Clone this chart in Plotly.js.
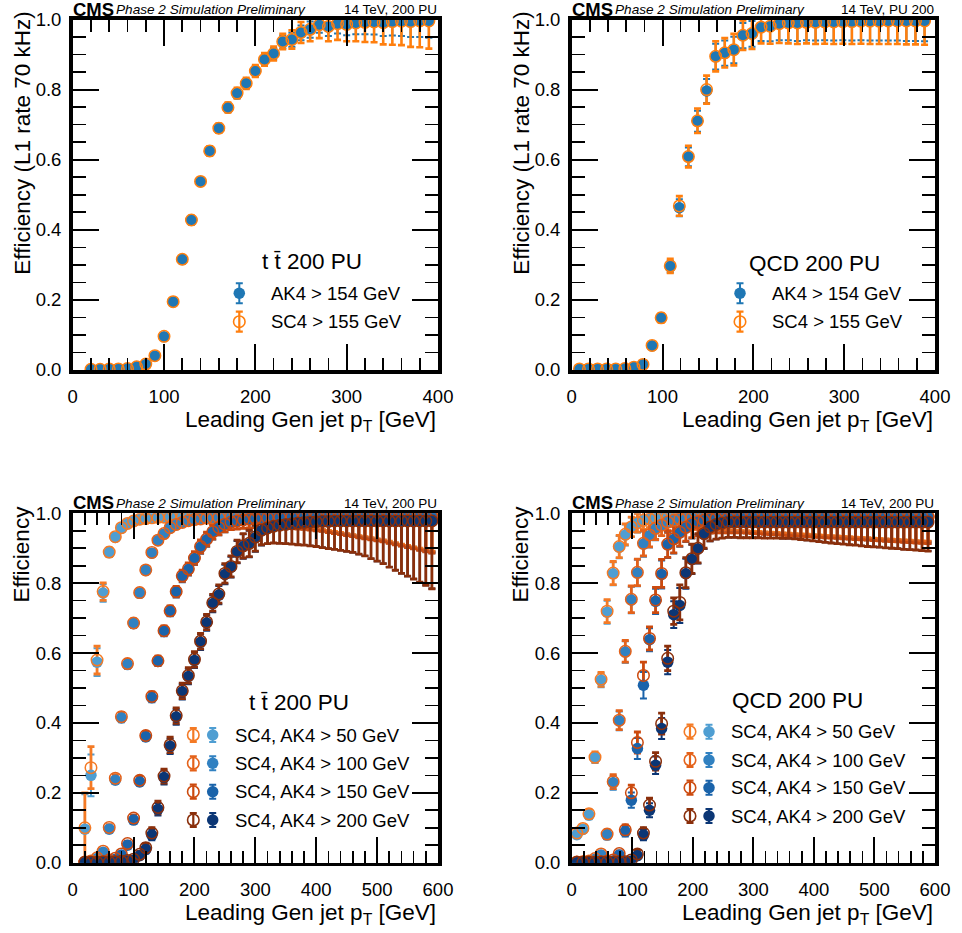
<!DOCTYPE html>
<html><head><meta charset="utf-8">
<script src="https://cdn.plot.ly/plotly-3.0.1.min.js"></script>
<style>html,body{margin:0;padding:0;background:#fff;} #chart{width:962px;height:933px;}</style>
</head><body><div id="chart"></div>
<script>
// ---------------- DATA ----------------
// Top-left: ttbar 200 PU, L1 rate 70 kHz
const ttX = [20,30,40,50,60,70,80,90,100,110,120,130,140,150,160,170,180,190,200,210,220,230,240,250,260,270,280,290,300,310,320,330,340,350,360,370,380,390];
const ttAK4 = [0.002,0.002,0.003,0.003,0.004,0.009,0.016,0.040,0.095,0.194,0.315,0.427,0.537,0.624,0.689,0.748,0.788,0.817,0.852,0.885,0.902,0.936,0.942,0.962,0.971,0.984,0.979,0.988,0.985,0.990,0.992,0.993,0.991,0.994,0.995,0.994,0.996,0.996];
const ttSC4 = [0.002,0.002,0.003,0.003,0.004,0.009,0.017,0.041,0.096,0.195,0.316,0.428,0.538,0.625,0.690,0.749,0.790,0.818,0.853,0.886,0.903,0.937,0.943,0.963,0.972,0.985,0.980,0.988,0.986,0.990,0.992,0.993,0.991,0.994,0.995,0.994,0.996,0.996];
const ttAK4Err = [0.001,0.001,0.001,0.001,0.002,0.003,0.004,0.006,0.008,0.010,0.011,0.012,0.012,0.012,0.012,0.012,0.013,0.014,0.015,0.016,0.017,0.018,0.020,0.021,0.023,0.022,0.026,0.028,0.030,0.032,0.034,0.036,0.038,0.040,0.042,0.044,0.046,0.048];
const ttSC4Err = [0.001,0.001,0.001,0.001,0.002,0.003,0.004,0.006,0.008,0.010,0.011,0.012,0.012,0.013,0.013,0.014,0.015,0.016,0.017,0.018,0.020,0.022,0.026,0.030,0.034,0.038,0.042,0.046,0.048,0.052,0.056,0.058,0.062,0.066,0.068,0.072,0.075,0.079];

// Top-right: QCD 200 PU, L1 rate 70 kHz
const qcdX = [8.5,18.5,28.5,38.5,48.5,58.5,68.5,78.5,88.5,98.5,108.5,118.5,128.5,138.5,148.5,158.5,168.5,178.5,188.5,198.5,208.5,218.5,228.5,238.5,248.5,258.5,268.5,278.5,288.5,298.5,308.5,318.5,328.5,338.5,348.5,358.5,368.5,378.5,388.5];
const qcdAK4 = [0.003,0.003,0.003,0.003,0.003,0.004,0.008,0.016,0.069,0.148,0.295,0.463,0.608,0.710,0.796,0.894,0.904,0.913,0.954,0.959,0.978,0.980,0.988,0.990,0.990,0.992,0.992,0.993,0.993,0.994,0.994,0.995,0.995,0.995,0.996,0.996,0.996,0.996,0.996];
const qcdSC4 = [0.003,0.003,0.003,0.003,0.003,0.004,0.008,0.016,0.070,0.149,0.297,0.468,0.609,0.711,0.800,0.895,0.905,0.914,0.955,0.960,0.978,0.981,0.988,0.990,0.990,0.992,0.992,0.993,0.993,0.994,0.994,0.995,0.995,0.995,0.996,0.996,0.996,0.996,0.996];
const qcdAK4Err = [0.001,0.001,0.001,0.001,0.001,0.002,0.003,0.004,0.008,0.011,0.017,0.024,0.027,0.030,0.034,0.037,0.036,0.038,0.036,0.037,0.039,0.042,0.047,0.049,0.051,0.051,0.052,0.052,0.053,0.053,0.054,0.054,0.055,0.055,0.056,0.056,0.057,0.057,0.058];
const qcdSC4Err = [0.001,0.001,0.001,0.001,0.001,0.002,0.003,0.005,0.010,0.013,0.020,0.028,0.031,0.035,0.040,0.043,0.042,0.045,0.042,0.044,0.046,0.050,0.055,0.058,0.060,0.060,0.062,0.062,0.063,0.063,0.064,0.064,0.065,0.065,0.066,0.066,0.067,0.067,0.068];

// Bottom-left: ttbar 200 PU, thresholds 50/100/150/200 GeV
const ttXw = [20,30,40,50,60,70,80,90,100,110,120,130,140,150,160,170,180,190,200,210,220,230,240,250,260,270,280,290,300,310,320,330,340,350,360,370,380,390,400,410,420,430,440,450,460,470,480,490,500,510,520,530,540,550,560,570,580,590];
const tt50AK4 = [0.096,0.250,0.574,0.772,0.887,0.931,0.957,0.970,0.977,0.982,0.985,0.987,0.988,0.989,0.990,0.990,0.991,0.991,0.992,0.992,0.992,0.992,0.993,0.993,0.993,0.993,0.993,0.993,0.994,0.994,0.994,0.994,0.994,0.994,0.994,0.994,0.994,0.994,0.994,0.994,0.994,0.994,0.994,0.994,0.994,0.994,0.994,0.994,0.994,0.994,0.994,0.994,0.994,0.994,0.994,0.994,0.994,0.994];
const tt50SC4 = [0.100,0.272,0.580,0.776,0.889,0.933,0.959,0.971,0.978,0.983,0.985,0.987,0.988,0.989,0.990,0.990,0.991,0.991,0.992,0.992,0.992,0.992,0.993,0.993,0.993,0.993,0.993,0.993,0.994,0.994,0.994,0.994,0.994,0.994,0.994,0.994,0.994,0.994,0.994,0.994,0.994,0.994,0.994,0.994,0.994,0.994,0.994,0.994,0.994,0.994,0.994,0.994,0.994,0.994,0.994,0.994,0.994,0.994];
const tt50Err = [0.100,0.060,0.040,0.025,0.012,0.010,0.008,0.007,0.006,0.006,0.006,0.006,0.007,0.007,0.008,0.008,0.009,0.009,0.010,0.010,0.011,0.012,0.013,0.014,0.015,0.016,0.017,0.018,0.019,0.020,0.022,0.024,0.026,0.028,0.030,0.032,0.034,0.036,0.038,0.040,0.043,0.046,0.049,0.052,0.055,0.058,0.061,0.064,0.067,0.070,0.074,0.078,0.082,0.086,0.090,0.094,0.098,0.102];
const tt100AK4 = [0.001,0.004,0.012,0.030,0.096,0.236,0.414,0.567,0.684,0.771,0.836,0.886,0.922,0.941,0.958,0.967,0.974,0.979,0.982,0.984,0.986,0.987,0.988,0.989,0.990,0.990,0.990,0.991,0.991,0.991,0.991,0.992,0.992,0.992,0.992,0.992,0.992,0.992,0.992,0.992,0.992,0.992,0.992,0.992,0.992,0.992,0.992,0.992,0.992,0.992,0.992,0.992,0.992,0.992,0.992,0.992,0.992,0.992];
const tt100SC4 = [0.002,0.005,0.014,0.033,0.101,0.242,0.418,0.570,0.686,0.773,0.838,0.888,0.923,0.942,0.959,0.968,0.974,0.979,0.982,0.984,0.986,0.987,0.988,0.989,0.990,0.990,0.990,0.991,0.991,0.991,0.991,0.992,0.992,0.992,0.992,0.992,0.992,0.992,0.992,0.992,0.992,0.992,0.992,0.992,0.992,0.992,0.992,0.992,0.992,0.992,0.992,0.992,0.992,0.992,0.992,0.992,0.992,0.992];
const tt100Err = [0.002,0.003,0.004,0.006,0.008,0.010,0.012,0.012,0.012,0.011,0.010,0.009,0.008,0.008,0.008,0.009,0.009,0.010,0.010,0.011,0.012,0.013,0.014,0.015,0.016,0.017,0.018,0.019,0.020,0.021,0.023,0.025,0.027,0.029,0.031,0.033,0.035,0.037,0.039,0.041,0.044,0.047,0.050,0.053,0.056,0.059,0.062,0.065,0.068,0.071,0.075,0.079,0.083,0.087,0.091,0.095,0.099,0.103];
const tt150AK4 = [0.000,0.000,0.001,0.002,0.006,0.010,0.022,0.050,0.122,0.231,0.360,0.472,0.576,0.662,0.719,0.774,0.819,0.839,0.870,0.903,0.924,0.946,0.958,0.968,0.974,0.978,0.981,0.983,0.985,0.986,0.987,0.988,0.988,0.989,0.989,0.989,0.990,0.990,0.990,0.990,0.990,0.990,0.990,0.990,0.990,0.990,0.990,0.990,0.990,0.990,0.990,0.990,0.990,0.990,0.990,0.990,0.990,0.990];
const tt150SC4 = [0.001,0.001,0.002,0.003,0.008,0.013,0.025,0.055,0.128,0.236,0.364,0.476,0.578,0.664,0.721,0.776,0.821,0.841,0.872,0.905,0.926,0.947,0.959,0.969,0.975,0.978,0.981,0.983,0.985,0.986,0.987,0.988,0.988,0.989,0.989,0.989,0.990,0.990,0.990,0.990,0.990,0.990,0.990,0.990,0.990,0.990,0.990,0.990,0.990,0.990,0.990,0.990,0.990,0.990,0.990,0.990,0.990,0.990];
const tt150Err = [0.001,0.001,0.002,0.002,0.003,0.004,0.005,0.007,0.009,0.011,0.012,0.013,0.013,0.014,0.014,0.015,0.016,0.017,0.018,0.019,0.020,0.021,0.021,0.022,0.022,0.023,0.024,0.025,0.026,0.027,0.028,0.029,0.030,0.031,0.032,0.034,0.036,0.038,0.040,0.042,0.045,0.048,0.051,0.054,0.057,0.060,0.063,0.066,0.069,0.072,0.076,0.080,0.084,0.088,0.092,0.096,0.100,0.104];
const tt200AK4 = [0.000,0.000,0.000,0.001,0.001,0.002,0.003,0.005,0.008,0.020,0.038,0.079,0.153,0.244,0.333,0.417,0.489,0.533,0.579,0.631,0.686,0.741,0.766,0.825,0.846,0.889,0.905,0.912,0.930,0.950,0.958,0.963,0.966,0.968,0.970,0.972,0.974,0.975,0.976,0.977,0.977,0.978,0.978,0.978,0.978,0.978,0.978,0.978,0.978,0.978,0.978,0.978,0.978,0.978,0.978,0.978,0.978,0.978];
const tt200SC4 = [0.001,0.001,0.001,0.002,0.002,0.003,0.004,0.006,0.010,0.024,0.043,0.085,0.158,0.248,0.337,0.421,0.492,0.536,0.582,0.634,0.689,0.744,0.769,0.828,0.848,0.891,0.907,0.914,0.932,0.952,0.958,0.963,0.966,0.968,0.970,0.972,0.974,0.975,0.976,0.977,0.977,0.978,0.978,0.978,0.978,0.978,0.978,0.978,0.978,0.978,0.978,0.978,0.978,0.978,0.978,0.978,0.978,0.978];
const tt200ErrLo = [0.002,0.002,0.002,0.002,0.002,0.002,0.002,0.004,0.006,0.008,0.012,0.015,0.018,0.020,0.022,0.022,0.022,0.022,0.022,0.022,0.022,0.024,0.026,0.028,0.030,0.032,0.035,0.038,0.040,0.042,0.045,0.048,0.052,0.055,0.058,0.062,0.065,0.068,0.071,0.075,0.078,0.081,0.084,0.087,0.090,0.095,0.100,0.108,0.115,0.122,0.132,0.141,0.150,0.158,0.166,0.175,0.184,0.194];
const tt200ErrUp = [0.002,0.002,0.002,0.002,0.002,0.002,0.002,0.004,0.006,0.008,0.012,0.015,0.018,0.020,0.022,0.022,0.022,0.022,0.022,0.022,0.022,0.024,0.026,0.028,0.030,0.032,0.035,0.038,0.035,0.030,0.025,0.022,0.020,0.018,0.016,0.015,0.014,0.013,0.012,0.012,0.012,0.012,0.012,0.012,0.012,0.012,0.012,0.012,0.012,0.012,0.012,0.012,0.012,0.012,0.012,0.012,0.012,0.012];

// Bottom-right: QCD 200 PU, thresholds 50/100/150/200 GeV
const qXw = [8.5,18.5,28.5,38.5,48.5,58.5,68.5,78.5,88.5,98.5,108.5,118.5,128.5,138.5,148.5,158.5,168.5,178.5,188.5,198.5,208.5,218.5,228.5,238.5,248.5,258.5,268.5,278.5,288.5,298.5,308.5,318.5,328.5,338.5,348.5,358.5,368.5,378.5,388.5,398.5,408.5,418.5,428.5,438.5,448.5,458.5,468.5,478.5,488.5,498.5,508.5,518.5,528.5,538.5,548.5,558.5,568.5,578.5,588.5];
const q50AK4 = [0.080,0.095,0.136,0.300,0.522,0.717,0.827,0.903,0.938,0.960,0.972,0.980,0.984,0.987,0.988,0.989,0.990,0.990,0.990,0.990,0.990,0.990,0.990,0.990,0.990,0.990,0.990,0.990,0.990,0.990,0.990,0.990,0.990,0.990,0.990,0.990,0.990,0.990,0.990,0.990,0.990,0.990,0.990,0.990,0.990,0.990,0.990,0.990,0.990,0.990,0.990,0.990,0.990,0.990,0.990,0.990,0.990,0.990,0.990];
const q50SC4 = [0.085,0.098,0.140,0.302,0.525,0.720,0.829,0.905,0.940,0.961,0.973,0.980,0.984,0.987,0.988,0.989,0.990,0.990,0.990,0.990,0.990,0.990,0.990,0.990,0.990,0.990,0.990,0.990,0.990,0.990,0.990,0.990,0.990,0.990,0.990,0.990,0.990,0.990,0.990,0.990,0.990,0.990,0.990,0.990,0.990,0.990,0.990,0.990,0.990,0.990,0.990,0.990,0.990,0.990,0.990,0.990,0.990,0.990,0.990];
const q50Err = [0.010,0.010,0.012,0.015,0.020,0.033,0.033,0.032,0.030,0.028,0.027,0.026,0.025,0.025,0.026,0.027,0.028,0.029,0.030,0.031,0.032,0.033,0.034,0.035,0.036,0.037,0.038,0.039,0.040,0.041,0.042,0.043,0.044,0.045,0.046,0.047,0.048,0.049,0.050,0.051,0.052,0.053,0.054,0.055,0.056,0.057,0.058,0.059,0.060,0.061,0.062,0.063,0.064,0.065,0.066,0.067,0.068,0.069,0.070];
const q100AK4 = [0.001,0.002,0.004,0.010,0.022,0.079,0.229,0.406,0.603,0.752,0.829,0.912,0.936,0.955,0.965,0.975,0.980,0.984,0.986,0.988,0.989,0.990,0.990,0.990,0.990,0.990,0.990,0.990,0.990,0.990,0.990,0.990,0.990,0.990,0.990,0.990,0.990,0.990,0.990,0.990,0.990,0.990,0.990,0.990,0.990,0.990,0.990,0.990,0.990,0.990,0.990,0.990,0.990,0.990,0.990,0.990,0.990,0.990,0.990];
const q100SC4 = [0.002,0.003,0.005,0.012,0.025,0.082,0.232,0.408,0.605,0.754,0.831,0.914,0.938,0.957,0.966,0.975,0.980,0.984,0.986,0.988,0.989,0.990,0.990,0.990,0.990,0.990,0.990,0.990,0.990,0.990,0.990,0.990,0.990,0.990,0.990,0.990,0.990,0.990,0.990,0.990,0.990,0.990,0.990,0.990,0.990,0.990,0.990,0.990,0.990,0.990,0.990,0.990,0.990,0.990,0.990,0.990,0.990,0.990,0.990];
const q100Err = [0.002,0.002,0.003,0.005,0.008,0.012,0.020,0.027,0.031,0.038,0.038,0.036,0.034,0.032,0.030,0.030,0.031,0.032,0.033,0.034,0.035,0.036,0.037,0.038,0.039,0.040,0.041,0.042,0.043,0.044,0.045,0.046,0.047,0.048,0.049,0.050,0.051,0.052,0.053,0.054,0.055,0.056,0.057,0.058,0.059,0.060,0.061,0.062,0.063,0.064,0.065,0.066,0.067,0.068,0.069,0.070,0.071,0.072,0.072];
const q150AK4 = [0.000,0.000,0.001,0.001,0.002,0.003,0.005,0.022,0.089,0.179,0.327,0.508,0.638,0.748,0.825,0.910,0.925,0.944,0.958,0.968,0.975,0.980,0.984,0.986,0.987,0.988,0.989,0.990,0.990,0.990,0.990,0.990,0.990,0.990,0.990,0.990,0.990,0.990,0.990,0.990,0.990,0.990,0.990,0.990,0.990,0.990,0.990,0.990,0.990,0.990,0.990,0.990,0.990,0.990,0.990,0.990,0.990,0.990,0.990];
const q150SC4 = [0.001,0.001,0.002,0.002,0.003,0.005,0.008,0.026,0.094,0.200,0.344,0.536,0.642,0.752,0.828,0.912,0.927,0.946,0.960,0.970,0.976,0.980,0.984,0.986,0.987,0.988,0.989,0.990,0.990,0.990,0.990,0.990,0.990,0.990,0.990,0.990,0.990,0.990,0.990,0.990,0.990,0.990,0.990,0.990,0.990,0.990,0.990,0.990,0.990,0.990,0.990,0.990,0.990,0.990,0.990,0.990,0.990,0.990,0.990];
const q150Err = [0.001,0.001,0.001,0.002,0.002,0.003,0.004,0.008,0.014,0.022,0.030,0.038,0.033,0.036,0.040,0.038,0.040,0.040,0.040,0.040,0.040,0.040,0.041,0.042,0.043,0.044,0.045,0.046,0.047,0.048,0.049,0.050,0.051,0.052,0.053,0.054,0.055,0.056,0.057,0.058,0.059,0.060,0.061,0.062,0.063,0.064,0.065,0.066,0.067,0.068,0.069,0.070,0.071,0.072,0.073,0.074,0.075,0.076,0.077];
const q200AK4 = [0.000,0.000,0.000,0.000,0.001,0.001,0.001,0.002,0.002,0.005,0.020,0.079,0.150,0.279,0.384,0.574,0.710,0.736,0.827,0.868,0.898,0.940,0.960,0.968,0.972,0.975,0.975,0.975,0.975,0.975,0.975,0.975,0.975,0.975,0.975,0.975,0.975,0.975,0.975,0.975,0.975,0.975,0.975,0.975,0.975,0.975,0.975,0.975,0.975,0.975,0.975,0.975,0.975,0.975,0.975,0.975,0.975,0.975,0.975];
const q200SC4 = [0.001,0.001,0.001,0.001,0.002,0.002,0.002,0.003,0.003,0.008,0.025,0.085,0.165,0.290,0.398,0.585,0.720,0.745,0.830,0.870,0.900,0.942,0.961,0.968,0.972,0.975,0.975,0.975,0.975,0.975,0.975,0.975,0.975,0.975,0.975,0.975,0.975,0.975,0.975,0.975,0.975,0.975,0.975,0.975,0.975,0.975,0.975,0.975,0.975,0.975,0.975,0.975,0.975,0.975,0.975,0.975,0.975,0.975,0.975];
const q200ErrLo = [0.002,0.002,0.002,0.002,0.002,0.002,0.002,0.002,0.002,0.005,0.010,0.015,0.020,0.025,0.030,0.035,0.038,0.050,0.043,0.042,0.042,0.042,0.040,0.042,0.043,0.044,0.044,0.045,0.045,0.045,0.045,0.046,0.046,0.046,0.047,0.047,0.048,0.050,0.052,0.054,0.056,0.058,0.060,0.062,0.063,0.065,0.066,0.068,0.070,0.071,0.072,0.074,0.075,0.076,0.078,0.079,0.080,0.082,0.083];
const q200ErrUp = [0.002,0.002,0.002,0.002,0.002,0.002,0.002,0.002,0.002,0.005,0.010,0.015,0.020,0.025,0.030,0.035,0.038,0.050,0.043,0.042,0.042,0.030,0.022,0.018,0.015,0.012,0.012,0.012,0.012,0.012,0.012,0.012,0.012,0.012,0.012,0.012,0.012,0.012,0.012,0.012,0.012,0.012,0.012,0.012,0.012,0.012,0.012,0.012,0.012,0.012,0.012,0.012,0.012,0.012,0.012,0.012,0.012,0.012,0.012];

// Labels
const topLegend = ['AK4 > 154 GeV', 'SC4 > 155 GeV'];
const botLegend = ['SC4, AK4 > 50 GeV', 'SC4, AK4 > 100 GeV', 'SC4, AK4 > 150 GeV', 'SC4, AK4 > 200 GeV'];
const xTitle = 'Leading Gen jet p<sub>T</sub> [GeV]';

// ---------------- STYLE / LAYOUT ----------------
const W = 962, H = 933;
const FONT = '"Liberation Sans", Arial, Helvetica, sans-serif';
const BLUE = '#1f77b4', ORANGE = '#ff7f0e';
const BLUES = ['#4f9ed2', '#3181c1', '#1a63aa', '#0b3675'];
const ORANGES = ['#f47a25', '#e4621a', '#cc4a0e', '#8a2f0b'];
const PAN = [
  {l:72.7, r:438, t:19.5, b:370, xmax:400},
  {l:571.7, r:935, t:19.5, b:370, xmax:400},
  {l:72.7, r:438, t:513.3, b:862.7, xmax:600},
  {l:571.7, r:935, t:513.3, b:862.7, xmax:600}
];

function ax(k){ return k===1 ? '' : String(k); }

function xAxis(p, k){
  return {domain:[p.l/W, p.r/W], range:[0, p.xmax], anchor:'y'+ax(k),
    showline:true, linewidth:3.6, linecolor:'#000', mirror:'allticks',
    ticks:'inside', ticklen:26, tickwidth:2, tickcolor:'#000', tick0:0, dtick:100,
    minor:{dtick:20, ticklen:12, tickwidth:1.6, ticks:'inside', tickcolor:'#000'},
    showgrid:false, zeroline:false, ticklabelstandoff:7,
    tickfont:{family:FONT, size:18.5, color:'#000'}, fixedrange:true};
}
function yAxis(p, k){
  return {domain:[1-p.b/H, 1-p.t/H], range:[0,1], anchor:'x'+ax(k),
    showline:true, linewidth:3.6, linecolor:'#000', mirror:'allticks',
    ticks:'inside', ticklen:26, tickwidth:2, tickcolor:'#000', tick0:0, dtick:0.2, tickformat:'.1f',
    minor:{dtick:0.05, ticklen:13, tickwidth:1.6, ticks:'inside', tickcolor:'#000'},
    showgrid:false, zeroline:false, ticklabelstandoff:4,
    tickfont:{family:FONT, size:18.5, color:'#000'}, fixedrange:true};
}

// error bars only (markers transparent)
function bars(k, x, y, lo, up, color, thick, name){
  const e = {type:'data', visible:true, color:color, thickness:thick, width:3.5};
  if (up) { e.symmetric=false; e.array=up; e.arrayminus=lo; } else { e.array=lo; }
  return {type:'scatter', mode:'markers', x:x, y:y, name:name, xaxis:'x'+ax(k), yaxis:'y'+ax(k),
    error_y:e, marker:{size:2, color:'rgba(0,0,0,0)'}, hoverinfo:'skip'};
}
// markers only
function marks(k, x, y, color, filled, name){
  return {type:'scatter', mode:'markers', x:x, y:y, name:name, xaxis:'x'+ax(k), yaxis:'y'+ax(k),
    marker: filled ? {symbol:'circle', size:11.5, color:color, line:{width:0}}
                   : {symbol:'circle-open', size:11.5, color:color, line:{width:1.5, color:color}},
    hoverinfo:'skip'};
}

const traces = [];
// top-left
traces.push(bars(1, ttX, ttAK4, ttAK4Err, null, BLUE, 2, topLegend[0]));
traces.push(bars(1, ttX, ttSC4, ttSC4Err, null, ORANGE, 2.6, topLegend[1]));
traces.push(marks(1, ttX, ttAK4, BLUE, true, topLegend[0]));
traces.push(marks(1, ttX, ttSC4, ORANGE, false, topLegend[1]));
// top-right
traces.push(bars(2, qcdX, qcdAK4, qcdAK4Err, null, BLUE, 2, topLegend[0]));
traces.push(bars(2, qcdX, qcdSC4, qcdSC4Err, null, ORANGE, 2.6, topLegend[1]));
traces.push(marks(2, qcdX, qcdAK4, BLUE, true, topLegend[0]));
traces.push(marks(2, qcdX, qcdSC4, ORANGE, false, topLegend[1]));
// bottom-left
const ttSets = [[tt50AK4, tt50SC4, tt50Err, null],[tt100AK4, tt100SC4, tt100Err, null],[tt150AK4, tt150SC4, tt150Err, null],[tt200AK4, tt200SC4, tt200ErrLo, tt200ErrUp]];
ttSets.forEach((s,i)=>{
  traces.push(bars(3, ttXw, s[0], s[2], s[3], BLUES[i], 2, botLegend[i]));
  traces.push(bars(3, ttXw, s[1], s[2], s[3], ORANGES[i], 2.8, botLegend[i]));
});
ttSets.forEach((s,i)=>{
  traces.push(marks(3, ttXw, s[0], BLUES[i], true, botLegend[i]));
  traces.push(marks(3, ttXw, s[1], ORANGES[i], false, botLegend[i]));
});
// bottom-right
const qSets = [[q50AK4, q50SC4, q50Err, null],[q100AK4, q100SC4, q100Err, null],[q150AK4, q150SC4, q150Err, null],[q200AK4, q200SC4, q200ErrLo, q200ErrUp]];
qSets.forEach((s,i)=>{
  traces.push(bars(4, qXw, s[0], s[2], s[3], BLUES[i], 2, botLegend[i]));
  traces.push(bars(4, qXw, s[1], s[2], s[3], ORANGES[i], 2.8, botLegend[i]));
});
qSets.forEach((s,i)=>{
  traces.push(marks(4, qXw, s[0], BLUES[i], true, botLegend[i]));
  traces.push(marks(4, qXw, s[1], ORANGES[i], false, botLegend[i]));
});

// legend markers drawn on a pixel-space overlay axis (x5/y5)
function legMark(px, py, color, filled, half){
  return {type:'scatter', mode:'markers', x:[px], y:[py], xaxis:'x5', yaxis:'y5',
    error_y:{type:'data', array:[half], visible:true, color:color, thickness: filled?2:2.2, width:3.5},
    marker: filled ? {symbol:'circle', size:11.5, color:color}
                   : {symbol:'circle-open', size:11.5, color:color, line:{width:1.6, color:color}},
    hoverinfo:'skip', showlegend:false};
}
const anns = [];
function txt(px, py, text, size, xanchor){
  anns.push({xref:'paper', yref:'paper', x:px/W, y:1-py/H, text:text, showarrow:false,
    xanchor:xanchor||'left', yanchor:'middle', font:{family:FONT, size:size, color:'#000'}});
}
// top legends
[[239.3, 269.3],[740, 770]].forEach((L)=>{
  traces.push(legMark(L[0], 293.3, BLUE, true, 10));
  traces.push(legMark(L[0], 321.7, ORANGE, false, 10));
  txt(L[1], 293.3, topLegend[0], 18.5);
  txt(L[1], 321.7, topLegend[1], 18.5);
});
txt(311.5, 262, 't t\u0304 200 PU', 22.5, 'center');
txt(814, 263, 'QCD 200 PU', 22.5, 'center');
// bottom legends
const blY = [735, 763.3, 791.7, 820];
const brY = [731.7, 760, 787.7, 816];
botLegend.forEach((lab,i)=>{
  traces.push(legMark(193.3, blY[i], ORANGES[i], false, 7));
  traces.push(legMark(212.7, blY[i], BLUES[i], true, 7));
  txt(232.7, blY[i], lab, 18.5);
  traces.push(legMark(690, brY[i], ORANGES[i], false, 7));
  traces.push(legMark(709, brY[i], BLUES[i], true, 7));
  txt(729.3, brY[i], lab, 18.5);
});
txt(298.5, 702.7, 't t\u0304 200 PU', 22.5, 'center');
txt(797, 700.7, 'QCD 200 PU', 22.5, 'center');

// headers, axis titles
const rightHdr = ['14 TeV, 200 PU', '14 TeV, PU 200', '14 TeV, 200 PU', '14 TeV, 200 PU'];
const yTitles = ['Efficiency (L1 rate 70 kHz)', 'Efficiency (L1 rate 70 kHz)', 'Efficiency', 'Efficiency'];
PAN.forEach((p,i)=>{
  anns.push({xref:'paper', yref:'paper', x:(p.l-1)/W, y:1-(p.t-10.5)/H, xanchor:'left', yanchor:'middle', showarrow:false,
    text:'<b>CMS</b>', font:{family:FONT, size:18.5, color:'#000'}, borderpad:0});
  anns.push({xref:'paper', yref:'paper', x:(p.l+42.5)/W, y:1-(p.t-10)/H, xanchor:'left', yanchor:'middle', showarrow:false,
    text:'<i>Phase 2 Simulation Preliminary</i>', font:{family:FONT, size:13.6, color:'#000'}, borderpad:0});
  anns.push({xref:'paper', yref:'paper', x:p.r/W, y:1-(p.t-10)/H, xanchor:'right', yanchor:'middle', showarrow:false,
    text:rightHdr[i], font:{family:FONT, size:13.5, color:'#000'}, borderpad:0});
  anns.push({xref:'paper', yref:'paper', x:p.r/W, y:1-(p.b+51)/H, xanchor:'right', yanchor:'middle', showarrow:false,
    text:xTitle, font:{family:FONT, size:22.5, color:'#000'}});
  anns.push({xref:'paper', yref:'paper', x:(p.l-51)/W, y:1-(p.t-10)/H, xanchor:'center', yanchor:'top', showarrow:false,
    textangle:-90, text:yTitles[i], font:{family:FONT, size:22.5, color:'#000'}});
});

const layout = {width:W, height:H, margin:{l:0,r:0,t:0,b:0,pad:0}, paper_bgcolor:'#fff', plot_bgcolor:'rgba(0,0,0,0)',
  showlegend:false, font:{family:FONT, color:'#000'}, annotations:anns,
  xaxis5:{domain:[0,1], range:[0,W], visible:false, fixedrange:true, anchor:'y5'},
  yaxis5:{domain:[0,1], range:[H,0], visible:false, fixedrange:true, anchor:'x5'}};
PAN.forEach((p,i)=>{ layout['xaxis'+ax(i+1)] = xAxis(p, i+1); layout['yaxis'+ax(i+1)] = yAxis(p, i+1); });

Plotly.newPlot('chart', traces, layout, {staticPlot:true, displayModeBar:false});
</script></body></html>
